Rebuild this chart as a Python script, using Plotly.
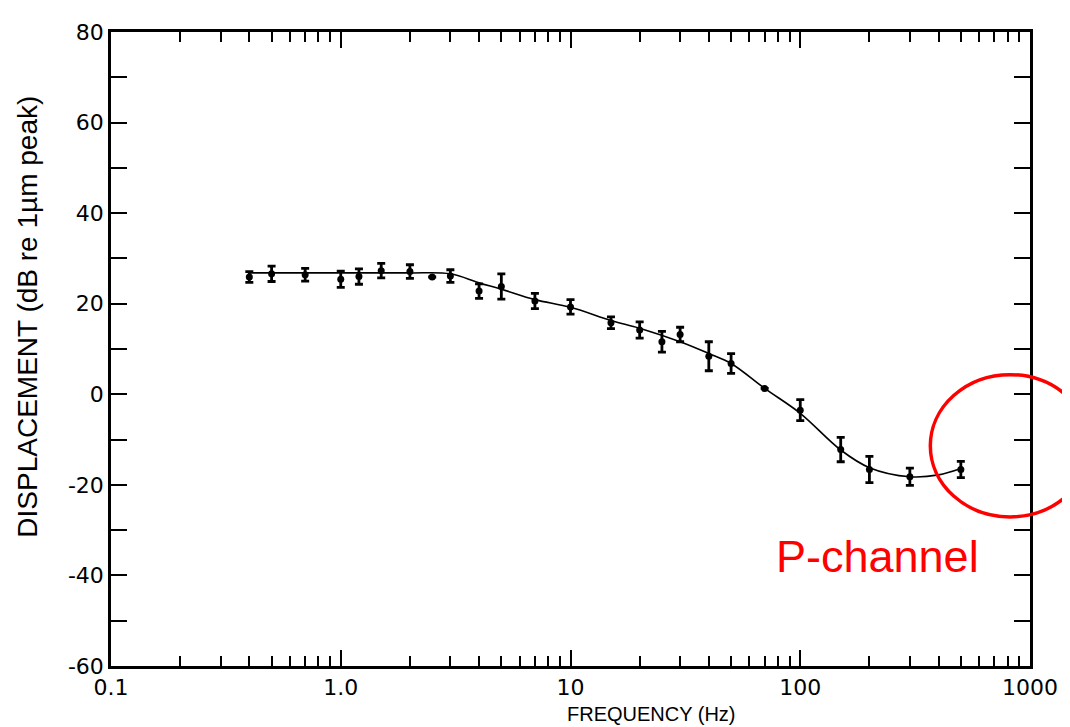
import plotly.graph_objects as go

# Measured points (frequency in Hz, displacement in dB re 1um peak, +/- error)
freq = [0.4, 0.5, 0.7, 1.0, 1.2, 1.5, 2.0, 2.5, 3.0, 4.0, 5.0, 7.0, 10, 15, 20, 25, 30, 40, 50, 70, 100, 150, 200, 300, 500]
disp = [25.9, 26.6, 26.4, 25.4, 26.0, 27.3, 27.1, 25.9, 26.1, 22.8, 23.8, 20.6, 19.3, 15.8, 14.2, 11.6, 13.2, 8.4, 6.8, 1.3, -3.5, -12.2, -16.6, -18.2, -16.6]
err = [1.2, 1.7, 1.4, 1.8, 1.7, 1.6, 1.5, 0, 1.4, 1.6, 2.8, 1.7, 1.6, 1.3, 1.8, 2.3, 1.6, 3.2, 2.2, 0, 2.3, 2.7, 2.9, 1.9, 1.8]

# Smooth fitted curve
curve_freq = [0.4, 0.7, 1.0, 2.0, 3.0, 4.0, 5.0, 7.0, 10, 15, 20, 30, 40, 50, 70, 100, 150, 200, 300, 400, 500]
curve_disp = [26.8, 26.8, 26.8, 26.8, 26.6, 24.6, 23.2, 20.9, 19.2, 16.3, 14.6, 11.6, 9.0, 6.8, 1.3, -4.2, -12.3, -16.2, -18.2, -17.8, -16.4]

x_tickvals = [0.1, 1, 10, 100, 1000]
x_ticktext = ["0.1", "1.0", "10", "100", "1000"]
x_minor_vals = [k * 10 ** d for d in (-1, 0, 1, 2) for k in range(2, 10)]
y_tickvals = [80, 60, 40, 20, 0, -20, -40, -60]
y_ticktext = ["80", "60", "40", "20", "0", "-20", "-40", "-60"]

# page has an 8px body margin; figure sized to fill the 1070x727 window
OFF = 8
W, H = 1070 - OFF, 727 - OFF
L, R, T, B = 111, 1033, 24, 666  # plot area in window pixels

def px(xp):
    return (xp - L) / (R - L)

def py(yp):
    return (B - yp) / (B - T)

fig = go.Figure()
fig.add_trace(go.Scatter(
    x=curve_freq, y=curve_disp, mode="lines",
    line=dict(color="black", width=1.6, shape="spline", smoothing=1.0),
    showlegend=False, hoverinfo="skip"))
fig.add_trace(go.Scatter(
    x=freq, y=disp, mode="markers",
    marker=dict(color="black", size=7),
    error_y=dict(type="data", array=err, visible=True, color="black", thickness=2.8, width=4),
    showlegend=False))
# empty trace that anchors the minor-tick overlay axis
fig.add_trace(go.Scatter(x=[], y=[], xaxis="x2", yaxis="y", showlegend=False, hoverinfo="skip"))

tickfont = dict(family="DejaVu Sans", size=22, color="black")

fig.update_layout(
    xaxis=dict(
        type="log", range=[-1, 3],
        tickmode="array", tickvals=x_tickvals, ticktext=x_ticktext,
        ticks="inside", ticklen=16, tickwidth=2, tickcolor="black",
        showline=True, linecolor="black", linewidth=2.5, mirror="allticks",
        showgrid=False, zeroline=False, tickfont=tickfont),
    xaxis2=dict(
        type="log", range=[-1, 3], overlaying="x", side="bottom", anchor="y",
        tickmode="array", tickvals=x_minor_vals,
        ticks="inside", ticklen=10, tickwidth=1.8, tickcolor="black",
        showticklabels=False, showline=False, mirror="allticks",
        showgrid=False, zeroline=False),
    yaxis=dict(
        range=[-60, 80],
        tickmode="array", tickvals=y_tickvals, ticktext=y_ticktext,
        ticks="inside", ticklen=16, tickwidth=2, tickcolor="black",
        minor=dict(ticks="inside", dtick=10, ticklen=10, tickwidth=1.8, tickcolor="black", showgrid=False),
        showline=True, linecolor="black", linewidth=2.5, mirror="allticks",
        showgrid=False, zeroline=False, tickfont=tickfont),
)

fig.add_annotation(
    text="DISPLACEMENT (dB re 1µm peak)", xref="paper", yref="paper",
    x=px(27), y=py(312), textangle=-90, showarrow=False,
    xanchor="center", yanchor="middle",
    font=dict(family="Liberation Sans", size=28, color="black"))
fig.add_annotation(
    text="FREQUENCY (Hz)", xref="paper", yref="paper",
    x=px(653), y=py(715), showarrow=False,
    xanchor="center", yanchor="middle",
    font=dict(family="Liberation Sans", size=20, color="black"))
fig.add_annotation(
    text="P-channel", xref="paper", yref="paper",
    x=px(776), y=py(555), showarrow=False,
    xanchor="left", yanchor="middle",
    font=dict(family="Liberation Sans", size=45, color="#ff0000"))

fig.add_shape(
    type="circle", xref="paper", yref="paper",
    x0=px(933), x1=px(1093), y0=py(515), y1=py(371),
    line=dict(color="#ff0000", width=3.5))

fig.update_layout(
    width=W, height=H,
    margin=dict(l=L - OFF, r=(W + OFF) - R, t=T - OFF, b=(H + OFF) - B),
    paper_bgcolor="white", plot_bgcolor="white",
    showlegend=False)

fig.write_html("out.html")
